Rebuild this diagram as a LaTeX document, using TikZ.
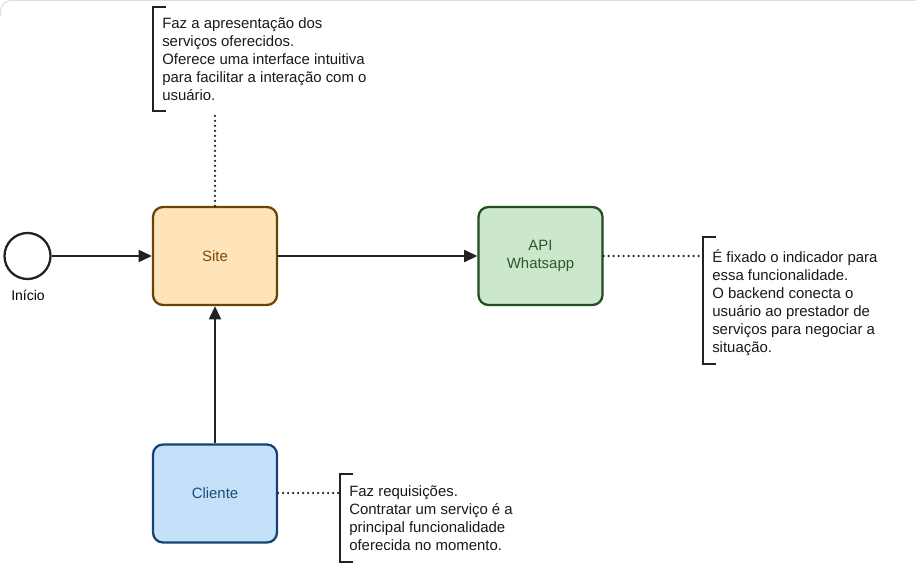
\documentclass[tikz,border=0pt]{standalone}
\usepackage{fontspec}
\setmainfont{Liberation Sans}
\usetikzlibrary{arrows.meta}
\definecolor{siteFill}{HTML}{FFE4BA}
\definecolor{siteDraw}{HTML}{6B4208}
\definecolor{siteText}{HTML}{7B4A0A}
\definecolor{apiFill}{HTML}{CCE8CC}
\definecolor{apiDraw}{HTML}{1F4F1F}
\definecolor{apiText}{HTML}{2A5A2A}
\definecolor{cliFill}{HTML}{C5E1FA}
\definecolor{cliDraw}{HTML}{164373}
\definecolor{cliText}{HTML}{1E4A78}
\definecolor{lineCol}{HTML}{222222}
\definecolor{frameCol}{HTML}{DDDDDD}
\begin{document}
\begin{tikzpicture}[x=0.75pt,y=-0.75pt,
  box/.style={draw, line width=1.7pt, rounded corners=7.5pt, minimum width=93pt, minimum height=73.5pt, inner sep=0pt, align=center, font=\fontsize{11.2}{13.5}\selectfont},
  flow/.style={line width=1.7pt, draw=lineCol, -{Triangle[length=10pt,width=9pt]}},
  assoc/.style={line width=2pt, draw=lineCol, dash pattern=on 0pt off 3.75pt, line cap=round},
  note/.style={anchor=north west, inner sep=0pt, align=left, font=\fontsize{11.2}{13.5}\selectfont, text=black!90},
  bracket/.style={line width=1.7pt, draw=lineCol},
  startev/.style={circle, draw=lineCol, line width=1.7pt, minimum size=34.5pt, inner sep=0pt, fill=white}
]
\useasboundingbox (0,0) rectangle (916,581);
\fill[white] (0,0) rectangle (916,581);
\draw[frameCol, line width=0.75pt, rounded corners=8pt] (0.5,16) -- (0.5,0.5) -- (916,0.5);

% nodes
\node[startev] (start) at (27.5,256) {};
\node[anchor=base, font=\fontsize{10.5}{12}\selectfont] (startlbl) at (28,300) {Início};
\node[box, fill=siteFill, draw=siteDraw, text=siteText] (site) at (215,256) {Site};
\node[box, fill=apiFill, draw=apiDraw, text=apiText] (api) at (540.5,256) {API\\Whatsapp};
\node[box, fill=cliFill, draw=cliDraw, text=cliText] (cliente) at (215,493.5) {Cliente};

% annotations
\node[note] (nsitetxt) at (162,17.5) {Faz a apresentação dos\\serviços oferecidos.\\Oferece uma interface intuitiva\\para facilitar a interação com o\\usuário.};
\draw[bracket] (166,7) -- (153,7) -- (153,111) -- (166,111);
\coordinate (nsite) at (215,111);

\node[note] (napitxt) at (712,249.5) {É fixado o indicador para\\essa funcionalidade.\\O backend conecta o\\usuário ao prestador de\\serviços para negociar a\\situação.};
\draw[bracket] (716,237) -- (703,237) -- (703,364) -- (716,364);
\coordinate (napi) at (703,256);

\node[note] (nclitxt) at (349,485.5) {Faz requisições.\\Contratar um serviço é a\\principal funcionalidade\\oferecida no momento.};
\draw[bracket] (353,474) -- (340,474) -- (340,562) -- (353,562);
\coordinate (ncli) at (340,493);

% connectors
\draw[flow] (start) -- (site);
\draw[flow] (site) -- (api);
\draw[flow] (cliente) -- (site);
\draw[assoc] (site.north) -- (nsite);
\draw[assoc] (api.east) -- (napi);
\draw[assoc] (cliente.east |- ncli) -- (ncli);
\end{tikzpicture}
\end{document}
